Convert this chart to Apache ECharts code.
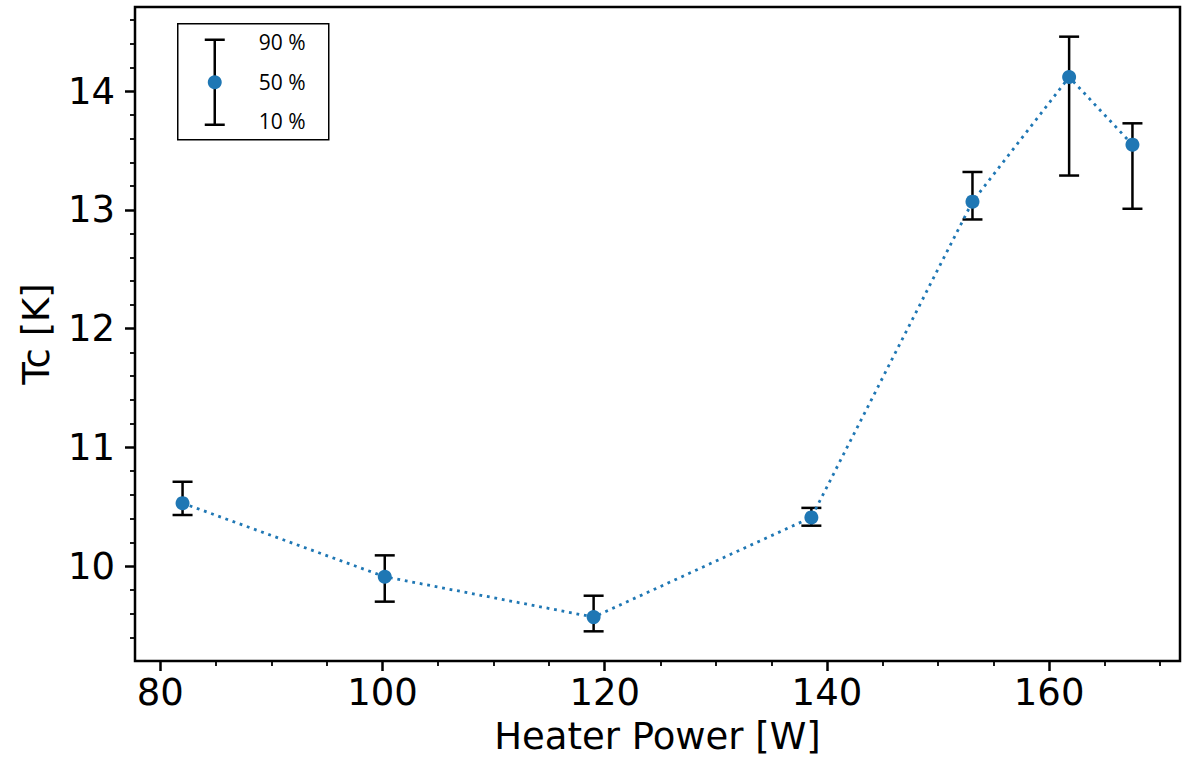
<!DOCTYPE html>
<html>
<head>
<meta charset="utf-8">
<title>Tc vs Heater Power</title>
<script src="https://cdn.jsdelivr.net/npm/echarts@6/dist/echarts.min.js"></script>
<style>
  html, body { margin: 0; padding: 0; background: #fff; }
  #chart { width: 1193px; height: 760px; }
</style>
</head>
<body>
<div id="chart"></div>
<script>
// Heater power [W] and critical temperature percentiles [K]
const power = [82.0, 100.2, 119.0, 138.6, 153.1, 161.8, 167.5];
const tc50  = [10.53, 9.91, 9.57, 10.41, 13.07, 14.12, 13.55];
const tc10  = [10.43, 9.70, 9.45, 10.34, 12.92, 13.29, 13.01];
const tc90  = [10.71, 10.09, 9.75, 10.49, 13.32, 14.46, 13.73];

// Axis ticks
const xMajor = [80, 100, 120, 140, 160];
const xMinor = [85, 90, 95, 105, 110, 115, 125, 130, 135, 145, 150, 155, 165, 170];
const yMajor = [10, 11, 12, 13, 14];
const yMinor = [9.4, 9.6, 9.8, 10.2, 10.4, 10.6, 10.8, 11.2, 11.4, 11.6, 11.8,
                12.2, 12.4, 12.6, 12.8, 13.2, 13.4, 13.6, 13.8, 14.2, 14.4, 14.6];
const legendLabels = ['90 %', '50 %', '10 %'];

const X_MIN = 77.72, X_MAX = 171.78;
const Y_MIN = 9.2, Y_MAX = 14.71;

const BLUE = '#1f77b4';
const FONT = 'DejaVu Sans';
const TICK_FONT = 37;
const NAME_FONT = 37;

const chart = echarts.init(document.getElementById('chart'), null, { renderer: 'svg' });

const errData = power.map((p, i) => [p, tc10[i], tc90[i]]);
const midData = power.map((p, i) => [p, tc50[i]]);

const option = {
  backgroundColor: '#fff',
  animation: false,
  grid: {
    left: 135, right: 13, top: 7, bottom: 96,
    show: true, borderColor: '#000', borderWidth: 2.5, backgroundColor: 'transparent',
    containLabel: false
  },
  xAxis: [
    {
      type: 'value', min: X_MIN, max: X_MAX, position: 'bottom',
      name: 'Heater Power [W]', nameLocation: 'middle', nameGap: 57,
      nameTextStyle: { fontFamily: FONT, fontSize: NAME_FONT, color: '#000' },
      axisLine: { show: false }, splitLine: { show: false },
      axisTick: { show: true, inside: false, length: 10, customValues: xMajor,
                  lineStyle: { color: '#000', width: 2.5 } },
      axisLabel: { show: true, customValues: xMajor, margin: 13,
                   fontFamily: FONT, fontSize: TICK_FONT, color: '#000' }
    },
    {
      type: 'value', min: X_MIN, max: X_MAX, position: 'bottom',
      axisLine: { show: false }, splitLine: { show: false },
      axisTick: { show: true, inside: false, length: 5, customValues: xMinor,
                  lineStyle: { color: '#000', width: 1.8 } },
      axisLabel: { show: false }
    }
  ],
  yAxis: [
    {
      type: 'value', min: Y_MIN, max: Y_MAX, position: 'left',
      name: 'Tc [K]', nameLocation: 'middle', nameGap: 80, nameRotate: 90,
      nameTextStyle: { fontFamily: FONT, fontSize: NAME_FONT, color: '#000' },
      axisLine: { show: false }, splitLine: { show: false },
      axisTick: { show: true, inside: false, length: 10, customValues: yMajor,
                  lineStyle: { color: '#000', width: 2.5 } },
      axisLabel: { show: true, customValues: yMajor, margin: 20,
                   fontFamily: FONT, fontSize: TICK_FONT, color: '#000' }
    },
    {
      type: 'value', min: Y_MIN, max: Y_MAX, position: 'left',
      axisLine: { show: false }, splitLine: { show: false },
      axisTick: { show: true, inside: false, length: 5, customValues: yMinor,
                  lineStyle: { color: '#000', width: 1.8 } },
      axisLabel: { show: false }
    }
  ],
  series: [
    {
      // 10 % – 90 % error bars with caps
      type: 'custom',
      xAxisIndex: 0, yAxisIndex: 0,
      z: 2,
      data: errData,
      renderItem: function (params, api) {
        const x = api.value(0);
        const lo = api.coord([x, api.value(1)]);
        const hi = api.coord([x, api.value(2)]);
        const cap = 10;
        const style = { stroke: '#000', lineWidth: 2.5, fill: null };
        return {
          type: 'group',
          children: [
            { type: 'line', shape: { x1: lo[0], y1: lo[1], x2: hi[0], y2: hi[1] }, style: style },
            { type: 'line', shape: { x1: hi[0] - cap, y1: hi[1], x2: hi[0] + cap, y2: hi[1] }, style: style },
            { type: 'line', shape: { x1: lo[0] - cap, y1: lo[1], x2: lo[0] + cap, y2: lo[1] }, style: style }
          ]
        };
      }
    },
    {
      // median values joined by a dotted line
      type: 'line',
      xAxisIndex: 0, yAxisIndex: 0,
      z: 3,
      data: midData,
      symbol: 'circle',
      symbolSize: 14,
      showSymbol: true,
      itemStyle: { color: BLUE },
      lineStyle: { color: BLUE, width: 2.8, type: [2.8, 4.8], cap: 'butt' }
    }
  ],
  graphic: [
    {
      type: 'group',
      left: 177, top: 23,
      children: [
        { type: 'rect', shape: { x: 0, y: 0, width: 151, height: 116 },
          style: { fill: '#fff', stroke: '#000', lineWidth: 1.5 } },
        { type: 'line', shape: { x1: 37, y1: 16, x2: 37, y2: 101 },
          style: { stroke: '#000', lineWidth: 2.5 } },
        { type: 'line', shape: { x1: 27, y1: 16, x2: 47, y2: 16 },
          style: { stroke: '#000', lineWidth: 2.5 } },
        { type: 'line', shape: { x1: 27, y1: 101, x2: 47, y2: 101 },
          style: { stroke: '#000', lineWidth: 2.5 } },
        { type: 'circle', shape: { cx: 37, cy: 58.5, r: 7 },
          style: { fill: BLUE } },
        { type: 'text', x: 81, y: 18, style: { text: legendLabels[0], fontFamily: 'Open Sans',
          fontSize: 21, fill: '#000', verticalAlign: 'middle' } },
        { type: 'text', x: 81, y: 58.5, style: { text: legendLabels[1], fontFamily: 'Open Sans',
          fontSize: 21, fill: '#000', verticalAlign: 'middle' } },
        { type: 'text', x: 81, y: 97, style: { text: legendLabels[2], fontFamily: 'Open Sans',
          fontSize: 21, fill: '#000', verticalAlign: 'middle' } }
      ]
    }
  ]
};

chart.setOption(option);
</script>
</body>
</html>
